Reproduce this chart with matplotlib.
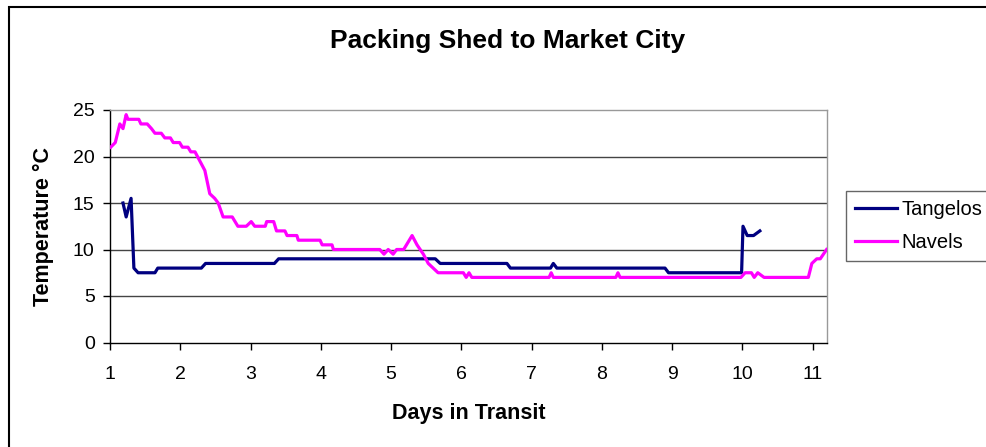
import matplotlib.pyplot as plt
from matplotlib.patches import Rectangle

plt.rcParams['font.family'] = ['Liberation Sans', 'DejaVu Sans']

# Days in transit / temperature readings (deg C)
tangelo_days = [1.185, 1.23, 1.30, 1.34, 1.40, 1.64, 1.68, 2.30, 2.36, 3.34, 3.40,
                5.63, 5.70, 6.65, 6.70, 7.27, 7.31, 7.36, 8.90, 8.95, 9.99,
                10.01, 10.07, 10.16, 10.25]
tangelo_temp = [15, 13.5, 15.5, 8, 7.5, 7.5, 8, 8, 8.5, 8.5, 9,
                9, 8.5, 8.5, 8, 8, 8.5, 8, 8, 7.5, 7.5,
                12.5, 11.5, 11.5, 12]

navel_days = [1.01, 1.075, 1.14, 1.185, 1.23, 1.255, 1.41, 1.44, 1.53, 1.59,
              1.64, 1.73, 1.78, 1.86, 1.90, 1.99, 2.03, 2.11, 2.15, 2.21,
              2.28, 2.35, 2.42, 2.49, 2.54, 2.61, 2.74, 2.82, 2.94, 3.01,
              3.06, 3.21, 3.23, 3.33, 3.37, 3.49, 3.52, 3.66, 3.68, 3.99,
              4.02, 4.16, 4.18, 4.84, 4.90, 4.96, 5.03, 5.08, 5.18, 5.30,
              5.37, 5.46, 5.53, 5.60, 5.67, 6.03, 6.07, 6.11, 6.15, 7.25,
              7.28, 7.31, 8.20, 8.23, 8.26, 9.98, 10.04, 10.13, 10.17, 10.22,
              10.31, 10.94, 10.99, 11.06, 11.11, 11.20]
navel_temp = [21, 21.5, 23.5, 23, 24.5, 24, 24, 23.5, 23.5, 23,
              22.5, 22.5, 22, 22, 21.5, 21.5, 21, 21, 20.5, 20.5,
              19.5, 18.5, 16, 15.5, 15, 13.5, 13.5, 12.5, 12.5, 13,
              12.5, 12.5, 13, 13, 12, 12, 11.5, 11.5, 11, 11,
              10.5, 10.5, 10, 10, 9.5, 10, 9.5, 10, 10, 11.5,
              10.5, 9.5, 8.5, 8, 7.5, 7.5, 7, 7.5, 7, 7,
              7.5, 7, 7, 7.5, 7, 7, 7.5, 7.5, 7, 7.5,
              7, 7, 8.5, 9, 9, 10]

x_ticks = list(range(1, 12))
y_ticks = [0, 5, 10, 15, 20, 25]

W, H = 987, 447
fig = plt.figure(figsize=(W / 100, H / 100), dpi=100)
ax = fig.add_axes([110 / W, 1 - 342.5 / H, (827.3 - 110) / W, (342.5 - 110) / H])

for y in [5, 10, 15, 20]:
    ax.axhline(y, color='#444444', lw=1.0, zorder=1)

ax.plot(tangelo_days, tangelo_temp, color='#000080', lw=2.3, label='Tangelos', zorder=3)
ax.plot(navel_days, navel_temp, color='#FF00FF', lw=2.3, label='Navels', zorder=4)

ax.set_xlim(1, 11.21)
ax.set_ylim(0, 25)
ax.set_xticks(x_ticks)
ax.set_yticks(y_ticks)
ax.tick_params(direction='out', length=5, width=1, labelsize=14, color='black')
ax.tick_params(axis='y', pad=6)
ax.tick_params(axis='x', pad=12)

ax.spines['top'].set_color('#999999')
ax.spines['right'].set_color('#999999')
ax.spines['left'].set_color('black')
ax.spines['bottom'].set_color('black')
for s in ax.spines.values():
    s.set_linewidth(1.0)

ax.set_xlabel('Days in Transit', fontsize=15.5, fontweight='bold', labelpad=14)
ax.set_ylabel('Temperature °C', fontsize=15.5, fontweight='bold', labelpad=14)

fig.text(507.5 / W, 1 - 41 / H, 'Packing Shed to Market City', fontsize=19,
         fontweight='bold', ha='center', va='center')

leg = fig.legend(loc='upper left', bbox_to_anchor=(846 / W, 1 - 191 / H),
                 fontsize=14.5, frameon=True, fancybox=False, borderpad=0.45,
                 handlelength=2.1, handletextpad=0.2, labelspacing=0.7,
                 borderaxespad=0)
leg.get_frame().set_edgecolor('#404040')
leg.get_frame().set_linewidth(1.0)

# outer chart border
fig.patches.append(Rectangle((9 / W, -0.1), 1.2, 1 - 7 / H + 0.1,
                             transform=fig.transFigure, fill=False,
                             edgecolor='black', lw=1.5))

fig.savefig('out.png', dpi=100)
